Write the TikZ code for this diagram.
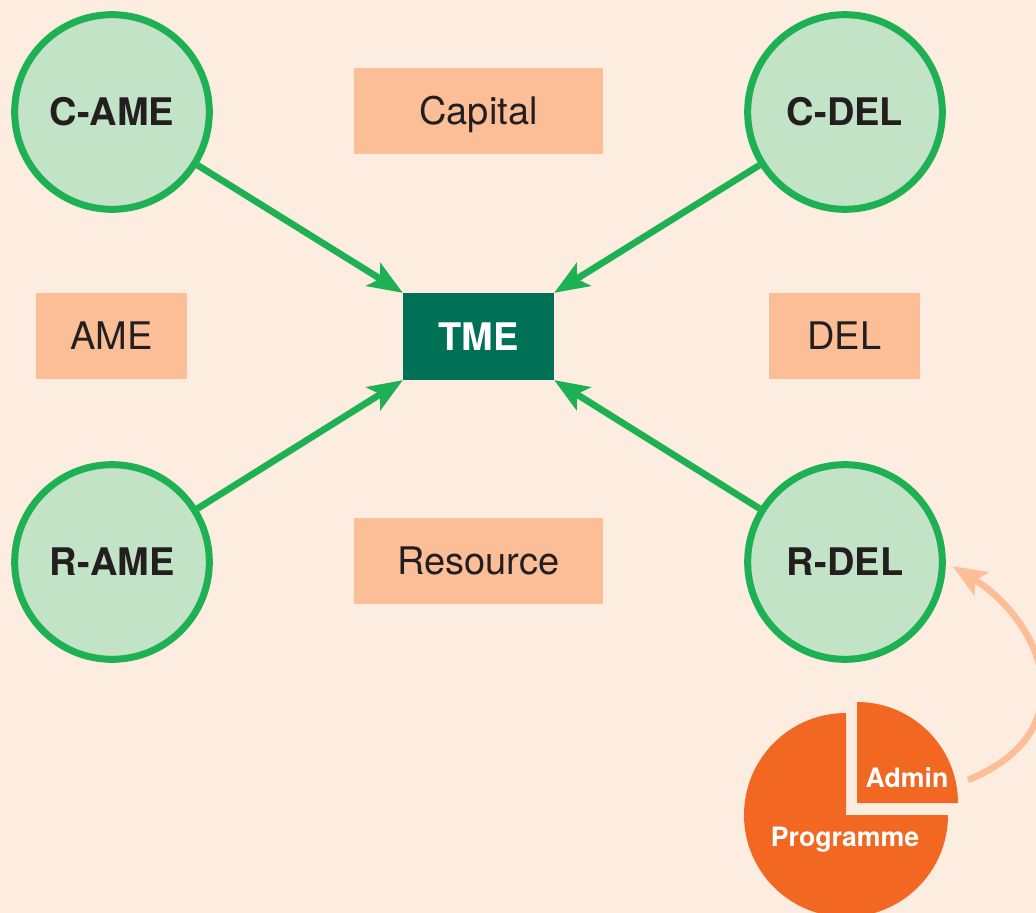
\documentclass[tikz,border=0pt]{standalone}
\usepackage{fontspec}
\setmainfont{TeX Gyre Heros}
\usepackage{xcolor}
\usepackage{tikz}
\usetikzlibrary{arrows.meta,positioning}

\definecolor{bgcream}{HTML}{FDEDE1}
\definecolor{palegreen}{HTML}{C3E3C7}
\definecolor{ringgreen}{HTML}{1DB153}
\definecolor{tmegreen}{HTML}{007157}
\definecolor{tanbox}{HTML}{FBBE97}
\definecolor{pieorange}{HTML}{F26722}
\definecolor{inkdark}{HTML}{231F20}

\begin{document}
\begin{tikzpicture}[x=0.75pt,y=0.75pt,yscale=-1,
  big text/.style={font=\fontsize{28.5}{33}\selectfont,text height=20.5pt,text depth=0pt},
  bold text/.style={font=\fontsize{28.5}{33}\selectfont\bfseries,text height=20.5pt,text depth=0pt},
  region/.style={circle,draw=ringgreen,fill=palegreen,line width=5.25pt,minimum size=146pt,inner sep=0pt,text=inkdark,bold text},
  label box/.style={fill=tanbox,minimum height=64.5pt,inner sep=0pt,text=inkdark,big text},
  feed/.style={draw=ringgreen,line width=5pt,-{Stealth[length=26pt,width=20pt,inset=6pt]}},
  slice text/.style={text=white,font=\fontsize{20}{24}\selectfont\bfseries,text height=14.4pt,text depth=0pt}]
%set diagram to the size of the page
\useasboundingbox (0,0) rectangle (1036,913);
\fill[bgcream] (0,0) rectangle (1036,913);
\clip (0,0) rectangle (1036,913);

% Centre box
\node (tme) [fill=tmegreen,minimum width=113pt,minimum height=65pt,inner sep=0pt,text=white,bold text] at (478.5,336.5) {TME};

% Circles
\node (came) [region] at (112,112) {C-AME};
\node (cdel) [region] at (845,112) {C-DEL};
\node (rame) [region] at (112,562) {R-AME};
\node (rdel) [region] at (845,562) {R-DEL};

% Text boxes
\node (capital) [label box,minimum width=187pt] at (478.5,111) {Capital};
\node (resource) [label box,minimum width=187pt] at (478.5,561) {Resource};
\node (ame) [label box,minimum width=113pt] at (111.5,336) {AME};
\node (del) [label box,minimum width=113pt] at (844.5,336) {DEL};

% Arrows into TME
\draw [feed] (came) -- (tme.north west);
\draw [feed] (cdel) -- (tme.north east);
\draw [feed] (rame) -- (tme.south west);
\draw [feed] (rdel) -- (tme.south east);

% Pie chart
\fill [pieorange] (846,815) -- (846,713) arc [start angle=-90,end angle=-360,radius=102] -- cycle;
\fill [pieorange] (857,803) -- (958,803) arc [start angle=0,end angle=-90,radius=101] -- cycle;
\node (admin) [slice text] at (907,778) {Admin};
\node (programme) [slice text] at (845,837) {Programme};

% Arrow from Admin slice to R-DEL
\coordinate (adminedge) at (968,780);
\draw [tanbox,line width=5pt,-{Stealth[length=25pt,width=20pt,inset=5pt]},shorten >=6pt] (adminedge) .. controls (1090,730) and (1040,620) .. (rdel.east);
\end{tikzpicture}
\end{document}
